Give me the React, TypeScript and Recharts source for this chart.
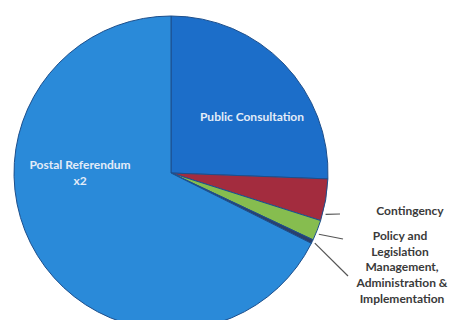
import { Pie, PieChart, Cell } from "recharts";

const categories = [
  "Public Consultation",
  "Contingency",
  "Policy and Legislation",
  "Management, Administration & Implementation",
  "Postal Referendum x2",
];
const shares = [25.6, 4.3, 2.1, 0.4, 67.6];
const colors = ["#1c6ec9", "#a32c3e", "#86bd4f", "#2b3f6b", "#2a8ad9"];

// label layout per slice (inside labels are white, outside ones get a leader line)
const labelLines = [
  ["Public Consultation"],
  ["Contingency"],
  ["Policy and", "Legislation"],
  ["Management,", "Administration &", "Implementation"],
  ["Postal Referendum", "x2"],
];
const labelPos = [
  { x: 252, y: 121 },
  { x: 410, y: 215 },
  { x: 400, y: 240 },
  { x: 402, y: 271 },
  { x: 80, y: 169 },
];
const leader: (null | { angle: number; end: [number, number] })[] = [
  null,
  { angle: -15, end: [340, 214] },
  { angle: -22.5, end: [343, 239] },
  { angle: -26, end: [348, 276] },
  null,
];

const data = categories.map((name, i) => ({ name, value: shares[i] }));

const RAD = Math.PI / 180;

function renderLabel(props: any) {
  const { cx, cy, outerRadius, index } = props;
  const pos = labelPos[index];
  const lines = labelLines[index];
  const ld = leader[index];
  const inside = ld === null;
  return (
    <g key={`lbl-${index}`}>
      {ld && (
        <line
          x1={cx + (outerRadius + 3) * Math.cos(ld.angle * RAD)}
          y1={cy - (outerRadius + 3) * Math.sin(ld.angle * RAD)}
          x2={ld.end[0]}
          y2={ld.end[1]}
          stroke="#555"
          strokeWidth={1.2}
        />
      )}
      <text
        x={pos.x}
        y={pos.y}
        textAnchor="middle"
        fill={inside ? "#e3ecf8" : "#3a3a3a"}
        fontFamily="Lato, sans-serif"
        fontWeight="bold"
        fontSize={12}
      >
        {lines.map((t, j) => (
          <tspan key={j} x={pos.x} dy={j === 0 ? 0 : 16}>
            {t}
          </tspan>
        ))}
      </text>
    </g>
  );
}

export default function App() {
  return (
    <div style={{ position: "fixed", left: 0, top: 0, background: "#fff" }}>
      <PieChart width={452} height={320}>
        <Pie
          data={data}
          dataKey="value"
          nameKey="name"
          cx={166}
          cy={168}
          outerRadius={157}
          startAngle={90}
          endAngle={-270}
          stroke="#1d4f8c"
          strokeWidth={1}
          label={renderLabel}
          labelLine={false}
          isAnimationActive={false}
        >
          {data.map((d, i) => (
            <Cell key={d.name} fill={colors[i]} />
          ))}
        </Pie>
      </PieChart>
    </div>
  );
}
